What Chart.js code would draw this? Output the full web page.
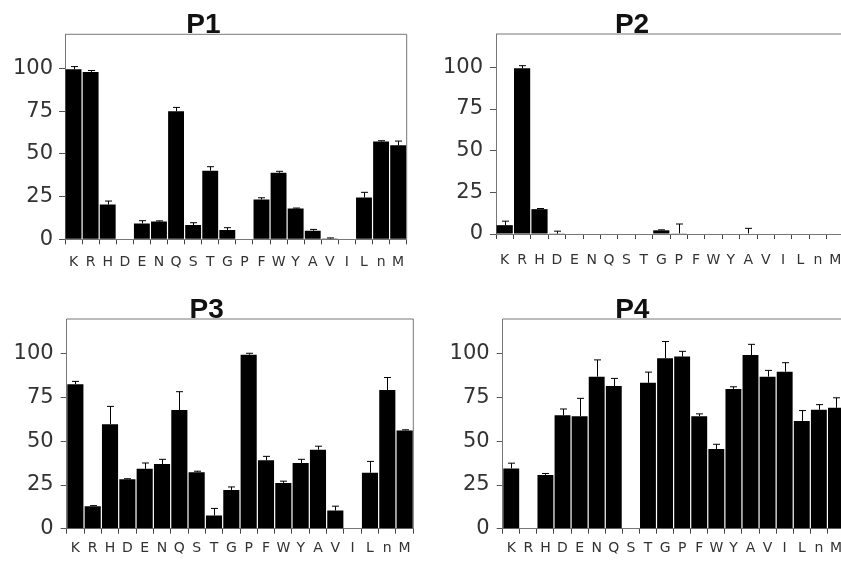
<!DOCTYPE html>
<html>
<head>
<meta charset="utf-8">
<script src="https://cdn.jsdelivr.net/npm/chart.js@4"></script>
<style>
  html, body { margin: 0; padding: 0; background: #fff; overflow: hidden; }
  #wrap { position: relative; width: 841px; height: 563px; overflow: hidden; }
  #wrap canvas { position: absolute; }
</style>
</head>
<body>
<div id="wrap">
  <canvas id="p1"></canvas>
  <canvas id="p2"></canvas>
  <canvas id="p3"></canvas>
  <canvas id="p4"></canvas>
</div>
<script>
/* ── Data ──────────────────────────────────────────────── */
const residues = ['K','R','H','D','E','N','Q','S','T','G','P','F','W','Y','A','V','I','L','n','M'];
const yTicks   = [0, 25, 50, 75, 100];

const p1Values = [99.5, 98, 20.4, 0, 9.3, 10.4, 75, 8.3, 40.2, 5.4, 0, 23.3, 39, 18, 5, 0.4, 0, 24.5, 57.3, 55];
const p1Errors = [1.6, 0.8, 2, 0, 1.6, 0.4, 2.2, 1.4, 2.3, 1.4, 0, 1, 0.8, 0.3, 0.8, 0.4, 0, 3, 0.4, 2.5];

const p2Values = [5.3, 99.4, 14.9, 0.2, 0, 0, 0, 0, 0, 2.2, 0.4, 0, 0, 0, 0.3, 0, 0, 0, 0, 0];
const p2Errors = [2.4, 1.6, 0.4, 1.5, 0, 0, 0, 0, 0, 0.3, 5.6, 0, 0, 0, 3.1, 0, 0, 0, 0, 0];

const p3Values = [82.7, 12.9, 59.8, 28.3, 34.3, 37, 67.9, 32.3, 7.6, 22.2, 99.6, 39.1, 26.2, 37.6, 45.2, 10.4, 0, 32, 79.3, 56.2];
const p3Errors = [1.6, 0.3, 10.2, 0.3, 3.3, 2.7, 10.5, 0.6, 4, 1.7, 0.8, 2.3, 1, 2.1, 2, 2.5, 0, 6.5, 7.2, 0.4];

const p4Values = [34.5, 0, 30.8, 64.9, 64.4, 87, 81.6, 0, 83.5, 97.5, 98.5, 64.4, 45.6, 80, 99.4, 87, 89.8, 61.7, 68, 69.2];
const p4Errors = [3, 0, 0.8, 3.6, 10.2, 9.6, 4.4, 0, 6.1, 9.6, 3, 1.3, 2.7, 1.2, 6.1, 3.6, 5.2, 5.9, 3, 5.7];

/* ── Panel placement (canvas box + plot area edges) ─────── */
const panels = [
  { id: 'p1', title: 'P1', values: p1Values, errors: p1Errors, left: 0,   top: 0,   w: 498, h: 280, yW: 65,   padR: 91.3,  xH: 40.7, tTop: 8.5,  tBot: -7.8, lblPad: 9.5,  yPad: 6 },
  { id: 'p2', title: 'P2', values: p2Values, errors: p2Errors, left: 420, top: 0,   w: 504, h: 280, yW: 76,   padR: 80,    xH: 46,   tTop: 8,    tBot: -7.6, lblPad: 12.5, yPad: 7 },
  { id: 'p3', title: 'P3', values: p3Values, errors: p3Errors, left: 0,   top: 280, w: 485, h: 283, yW: 66.7, padR: 71.7,  xH: 34.3, tTop: 13,   tBot: -7.6, lblPad: 6.3,  yPad: 7 },
  { id: 'p4', title: 'P4', values: p4Values, errors: p4Errors, left: 420, top: 280, w: 550, h: 283, yW: 82.7, padR: 125.5, xH: 34.3, tTop: 13,   tBot: -7.6, lblPad: 6.3,  yPad: 7 }
];

// frame (top + right edge) drawn behind bars
const framePlugin = {
  id: 'frame',
  beforeDatasetsDraw(chart) {
    const { ctx, chartArea: a } = chart;
    ctx.save();
    ctx.strokeStyle = '#777';
    ctx.lineWidth = 1;
    ctx.beginPath();
    ctx.moveTo(a.left, a.top);
    ctx.lineTo(a.right, a.top);
    ctx.lineTo(a.right, a.bottom);
    ctx.stroke();
    ctx.restore();
  }
};

// upward-only error bars with caps
const errorBarPlugin = {
  id: 'errorBars',
  afterDatasetsDraw(chart) {
    const ds = chart.data.datasets[0];
    const meta = chart.getDatasetMeta(0);
    const y = chart.scales.y;
    const ctx = chart.ctx;
    ctx.save();
    ctx.strokeStyle = '#000';
    ctx.lineWidth = 1;
    meta.data.forEach((bar, i) => {
      const e = ds.errors[i];
      if (!e) return;
      const v = ds.data[i];
      const y0 = y.getPixelForValue(v);
      const y1 = y.getPixelForValue(v + e);
      const x = Math.round(bar.x) + 0.5;
      ctx.beginPath();
      ctx.moveTo(x, y0);
      ctx.lineTo(x, y1);
      ctx.moveTo(x - 3.5, y1);
      ctx.lineTo(x + 3.5, y1);
      ctx.stroke();
    });
    ctx.restore();
  }
};

panels.forEach(p => {
  const cv = document.getElementById(p.id);
  cv.width = p.w;
  cv.height = p.h;
  cv.style.left = p.left + 'px';
  cv.style.top = p.top + 'px';

  new Chart(cv, {
    type: 'bar',
    data: {
      labels: residues,
      datasets: [{ data: p.values, errors: p.errors, backgroundColor: '#000', barPercentage: 0.93, categoryPercentage: 1 }]
    },
    options: {
      responsive: false,
      animation: false,
      layout: { padding: { left: 0, right: p.padR, top: 0, bottom: 0 } },
      plugins: {
        legend: { display: false },
        tooltip: { enabled: false },
        title: {
          display: true,
          text: p.title,
          color: '#111',
          font: { family: 'Liberation Sans', size: 28, weight: 'bold', lineHeight: 1.2 },
          padding: { top: p.tTop, bottom: p.tBot }
        }
      },
      scales: {
        x: {
          offset: true,
          grid: { offset: true, drawOnChartArea: false, tickLength: 5, color: '#444' },
          border: { color: '#777', width: 1 },
          ticks: { color: '#333', padding: p.lblPad, maxRotation: 0, autoSkip: false, font: { family: 'DejaVu Sans', size: 14 } },
          afterFit: s => { s.height = p.xH; }
        },
        y: {
          min: 0,
          max: 120,
          afterBuildTicks: s => { s.ticks = yTicks.map(v => ({ value: v })); },
          grid: { drawOnChartArea: false, tickLength: 6, color: '#555' },
          border: { color: '#777', width: 1 },
          ticks: { color: '#333', padding: p.yPad, font: { family: 'DejaVu Sans', size: 21 } },
          afterFit: s => { s.width = p.yW; }
        }
      }
    },
    plugins: [framePlugin, errorBarPlugin]
  });
});
</script>
</body>
</html>
